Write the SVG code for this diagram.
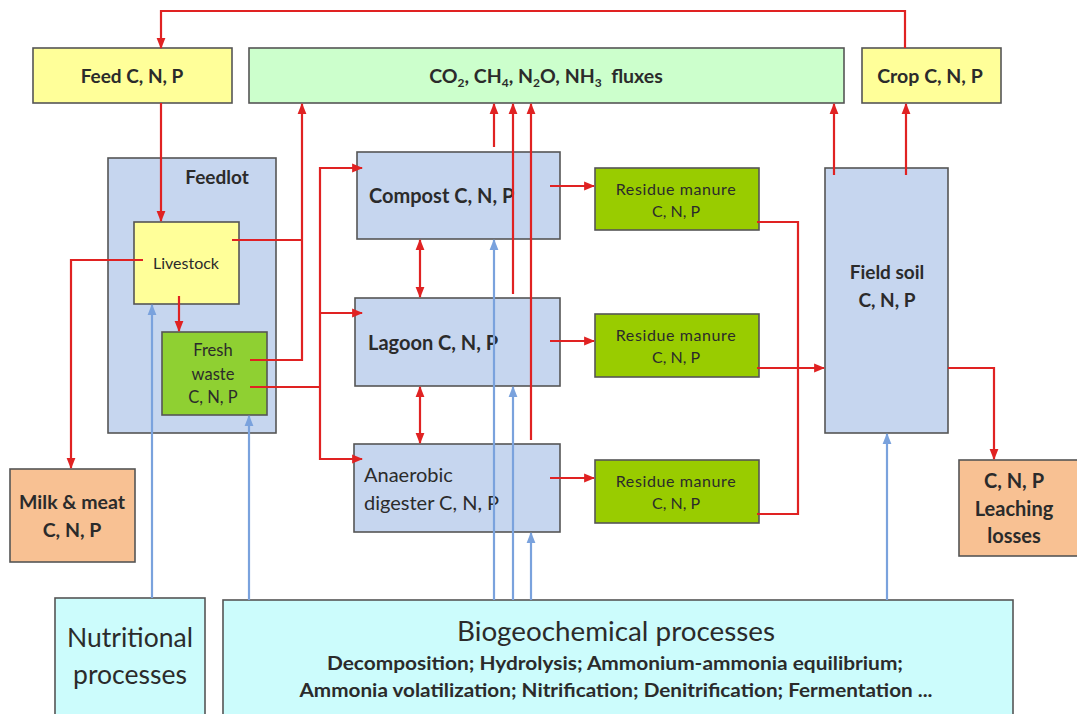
<svg xmlns="http://www.w3.org/2000/svg" width="1077" height="714" viewBox="0 0 1077 714">
<defs>
<style>
text{font-family:Lato,"Open Sans","Liberation Sans",sans-serif;fill:#2b2b2b;text-anchor:middle}
.b{font-weight:bold}
.s{text-anchor:start}
.box{stroke:#555;stroke-width:1.6}
.yel{fill:#ffff99}
.grn{fill:#ccffcc}
.blu{fill:#c6d6ef}
.fw{fill:#8fd032}
.res{fill:#99cc00}
.org{fill:#f8c193}
.cy{fill:#ccfcfc}
.r{stroke:#e02222;stroke-width:2.2;fill:none}
.bl{stroke:#7aa2dd;stroke-width:2.2;fill:none}
</style>
<marker id="ar" viewBox="0 0 10 10" refX="9" refY="5" markerWidth="5" markerHeight="5" orient="auto-start-reverse" markerUnits="strokeWidth"><path d="M0,1 L10,5 L0,9 z" fill="#e02222"/></marker>
<marker id="ab" viewBox="0 0 10 10" refX="9" refY="5" markerWidth="5" markerHeight="5" orient="auto" markerUnits="strokeWidth"><path d="M0,1 L10,5 L0,9 z" fill="#7aa2dd"/></marker>
</defs>
<rect width="1077" height="714" fill="#fff"/>

<g id="feed"><rect class="box yel" x="33" y="48" width="199" height="55"/><text class="b" x="132" y="83" font-size="19">Feed C, N, P</text></g>
<g id="fluxes"><rect class="box grn" x="249" y="48" width="595" height="55"/><text class="b" x="546" y="83" font-size="19.5">CO<tspan font-size="12" dy="4">2</tspan><tspan dy="-4">, CH</tspan><tspan font-size="12" dy="4">4</tspan><tspan dy="-4">, N</tspan><tspan font-size="12" dy="4">2</tspan><tspan dy="-4">O, NH</tspan><tspan font-size="12" dy="4">3</tspan><tspan dy="-4" xml:space="preserve">  fluxes</tspan></text></g>
<g id="crop"><rect class="box yel" x="862" y="48" width="139" height="55"/><text class="b" x="930" y="83" font-size="19.5">Crop C, N, P</text></g>

<g id="feedlot"><rect class="box blu" x="108" y="158" width="168" height="275"/><text class="b" x="217" y="184" font-size="19">Feedlot</text></g>
<g id="livestock"><rect class="box yel" x="134" y="222" width="105" height="82"/><text x="186" y="269" font-size="16">Livestock</text></g>
<g id="freshwaste"><rect class="box fw" x="162" y="332" width="105" height="83"/><text x="213" y="356" font-size="16.5">Fresh</text><text x="213" y="380" font-size="16.5">waste</text><text x="213" y="403" font-size="16.5">C, N, P</text></g>

<g id="compost"><rect class="box blu" x="357" y="152" width="203" height="87"/><text class="b s" x="369" y="203" font-size="20">Compost C, N, P</text></g>
<g id="lagoon"><rect class="box blu" x="355" y="298" width="205" height="88"/><text class="b s" x="368" y="350" font-size="20">Lagoon C, N, P</text></g>
<g id="anaerobic"><rect class="box blu" x="354" y="444" width="206" height="88"/><text class="s" x="364" y="482" font-size="20">Anaerobic</text><text class="s" x="364" y="510" font-size="20">digester C, N, P</text></g>

<g id="residue1"><rect class="box res" x="595" y="168" width="164" height="62"/><text x="676" y="195" font-size="16" letter-spacing="0.6">Residue manure</text><text x="676" y="217" font-size="16">C, N, P</text></g>
<g id="residue2"><rect class="box res" x="595" y="314" width="164" height="63"/><text x="676" y="341" font-size="16" letter-spacing="0.6">Residue manure</text><text x="676" y="363" font-size="16">C, N, P</text></g>
<g id="residue3"><rect class="box res" x="595" y="460" width="164" height="63"/><text x="676" y="487" font-size="16" letter-spacing="0.6">Residue manure</text><text x="676" y="509" font-size="16">C, N, P</text></g>

<g id="fieldsoil"><rect class="box blu" x="825" y="168" width="123" height="265"/><text class="b" x="887" y="279" font-size="19">Field soil</text><text class="b" x="887" y="307" font-size="19">C, N, P</text></g>

<g id="milk"><rect class="box org" x="10" y="469" width="125" height="93"/><text class="b" x="72" y="509" font-size="19.5">Milk &amp; meat</text><text class="b" x="72" y="537" font-size="19.5">C, N, P</text></g>
<g id="leaching"><rect class="box org" x="959" y="460" width="125" height="96"/><text class="b" x="1014" y="488" font-size="20">C, N, P</text><text class="b" x="1014" y="516" font-size="20">Leaching</text><text class="b" x="1014" y="543" font-size="20">losses</text></g>

<g id="nutritional"><rect class="box cy" x="55" y="598" width="150" height="130"/><text x="130" y="647" font-size="26.5">Nutritional</text><text x="130" y="684" font-size="26.5">processes</text></g>
<g id="biogeochemical"><rect class="box cy" x="223" y="600" width="790" height="130"/><text x="616" y="641" font-size="27.8">Biogeochemical processes</text><text class="b" x="615" y="670" font-size="19.5" textLength="576" lengthAdjust="spacingAndGlyphs">Decomposition; Hydrolysis; Ammonium-ammonia equilibrium;</text><text class="b" x="616" y="697" font-size="19.5" textLength="633" lengthAdjust="spacingAndGlyphs">Ammonia volatilization; Nitrification; Denitrification; Fermentation ...</text></g>

<g id="connectors">
<path class="r" d="M905,48 V11 H161 V48" marker-end="url(#ar)"/>
<path class="r" d="M161,103 V221" marker-end="url(#ar)"/>
<path class="r" d="M179,296 V331" marker-end="url(#ar)"/>
<path class="r" d="M143,260 H71 V468" marker-end="url(#ar)"/>
<path class="r" d="M232,240 H302"/>
<path class="r" d="M250,360 H302 V104" marker-end="url(#ar)"/>
<path class="r" d="M250,387 H320"/>
<path class="r" d="M362,168 H320 V459 H362" marker-start="url(#ar)" marker-end="url(#ar)"/>
<path class="r" d="M320,313 H362" marker-end="url(#ar)"/>
<path class="r" d="M420,240 V297" marker-start="url(#ar)" marker-end="url(#ar)"/>
<path class="r" d="M420,387 V443" marker-start="url(#ar)" marker-end="url(#ar)"/>
<path class="r" d="M494,147 V104" marker-end="url(#ar)"/>
<path class="r" d="M513,294 V104" marker-end="url(#ar)"/>
<path class="r" d="M531,440 V104" marker-end="url(#ar)"/>
<path class="r" d="M550,186 H594" marker-end="url(#ar)"/>
<path class="r" d="M550,341 H594" marker-end="url(#ar)"/>
<path class="r" d="M550,478 H594" marker-end="url(#ar)"/>
<path class="r" d="M757,222 H798 V514 H757"/>
<path class="r" d="M757,368 H824" marker-end="url(#ar)"/>
<path class="r" d="M834,175 V104" marker-end="url(#ar)"/>
<path class="r" d="M906,175 V104" marker-end="url(#ar)"/>
<path class="r" d="M948,368 H994 V459" marker-end="url(#ar)"/>
<path class="bl" d="M152,598 V305" marker-end="url(#ab)"/>
<path class="bl" d="M249,600 V416" marker-end="url(#ab)"/>
<path class="bl" d="M494,600 V240" marker-end="url(#ab)"/>
<path class="bl" d="M513,600 V387" marker-end="url(#ab)"/>
<path class="bl" d="M531,600 V533" marker-end="url(#ab)"/>
<path class="bl" d="M887,600 V434" marker-end="url(#ab)"/>
</g>
</svg>
